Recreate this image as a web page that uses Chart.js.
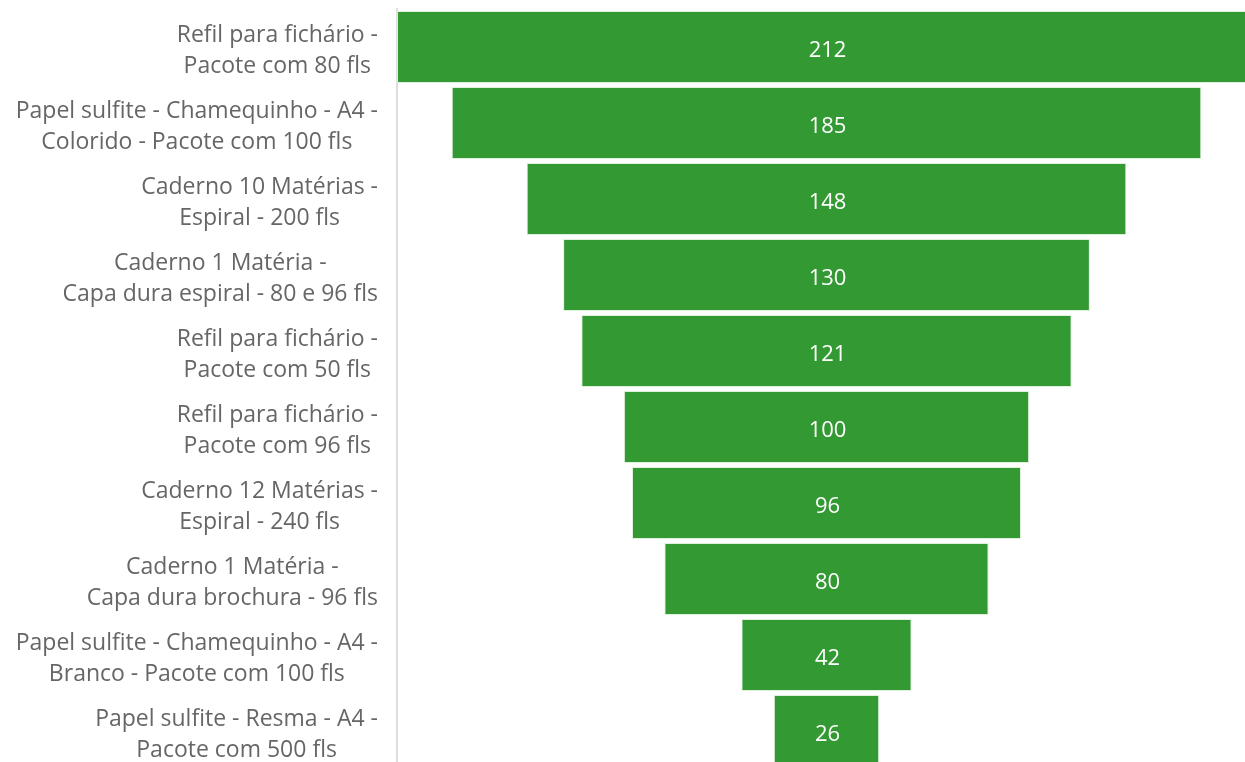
<!DOCTYPE html>
<html lang="pt-br">
<head>
<meta charset="UTF-8">
<title>Funil</title>
<script src="https://cdn.jsdelivr.net/npm/chart.js@4.4.1/dist/chart.umd.min.js"></script>
<style>
  html, body { margin: 0; padding: 0; background: #fff; overflow: hidden; }
  .chart-box { position: relative; width: 1256px; height: 769px; }
</style>
</head>
<body>
<div class="chart-box"><canvas id="funil"></canvas></div>
<script>
// categorias (cada uma em duas linhas, como no original)
const categorias = [
  ['Refil para fichário -', 'Pacote com 80 fls'],
  ['Papel sulfite - Chamequinho - A4 -', 'Colorido - Pacote com 100 fls'],
  ['Caderno 10 Matérias -', 'Espiral - 200 fls'],
  ['Caderno 1 Matéria -', 'Capa dura espiral - 80 e 96 fls'],
  ['Refil para fichário -', 'Pacote com 50 fls'],
  ['Refil para fichário -', 'Pacote com 96 fls'],
  ['Caderno 12 Matérias -', 'Espiral - 240 fls'],
  ['Caderno 1 Matéria -', 'Capa dura brochura - 96 fls'],
  ['Papel sulfite - Chamequinho - A4 -', 'Branco - Pacote com 100 fls'],
  ['Papel sulfite - Resma - A4 -', 'Pacote com 500 fls']
];
const quantidades = [212, 185, 148, 130, 121, 100, 96, 80, 42, 26];

const maxValor = Math.max(...quantidades);

// rótulos das categorias: linhas centradas entre si, bloco alinhado à direita
const rotulosCategorias = {
  id: 'rotulosCategorias',
  afterDraw(chart) {
    const ctx = chart.ctx;
    const y = chart.scales.y;
    ctx.save();
    ctx.font = '23px "Open Sans", sans-serif';
    ctx.fillStyle = '#666666';
    ctx.textAlign = 'center';
    ctx.textBaseline = 'middle';
    categorias.forEach((linhas, i) => {
      const py = y.getPixelForTick(i) + 4;
      const larg = Math.max(...linhas.map(l => ctx.measureText(l).width));
      const cx = y.right - 19 - larg / 2;
      linhas.forEach((l, j) => {
        ctx.fillText(l, cx, py + (j - (linhas.length - 1) / 2) * 31);
      });
    });
    ctx.restore();
  }
};

// valores no centro de cada barra
const rotulosValores = {
  id: 'rotulosValores',
  afterDatasetsDraw(chart) {
    const ctx = chart.ctx;
    const x = chart.scales.x;
    const y = chart.scales.y;
    ctx.save();
    ctx.font = '22px "Open Sans", sans-serif';
    ctx.fillStyle = '#ffffff';
    ctx.textAlign = 'center';
    ctx.textBaseline = 'middle';
    quantidades.forEach((v, i) => {
      ctx.fillText(String(v), x.getPixelForValue(0) + 1, y.getPixelForTick(i) + 4);
    });
    ctx.restore();
  }
};

new Chart(document.getElementById('funil'), {
  type: 'bar',
  data: {
    labels: categorias,
    datasets: [{
      data: quantidades.map(v => [-v / 2, v / 2]),
      backgroundColor: '#339933',
      borderColor: 'rgba(220, 240, 215, 0.9)',
      borderWidth: 1,
      borderSkipped: false,
      categoryPercentage: 1,
      barPercentage: 0.945
    }]
  },
  options: {
    indexAxis: 'y',
    responsive: true,
    maintainAspectRatio: false,
    animation: false,
    layout: { padding: { top: 9, left: 0, right: 0, bottom: 0 } },
    plugins: {
      legend: { display: false },
      tooltip: { enabled: false }
    },
    scales: {
      x: { display: false, min: -maxValor / 2, max: maxValor / 2 },
      y: {
        display: true,
        grid: { display: false },
        ticks: { display: false },
        border: { display: true, color: '#dddddd', width: 2 },
        afterFit(scale) { scale.width = 397; }
      }
    }
  },
  plugins: [rotulosCategorias, rotulosValores]
});
</script>
</body>
</html>
